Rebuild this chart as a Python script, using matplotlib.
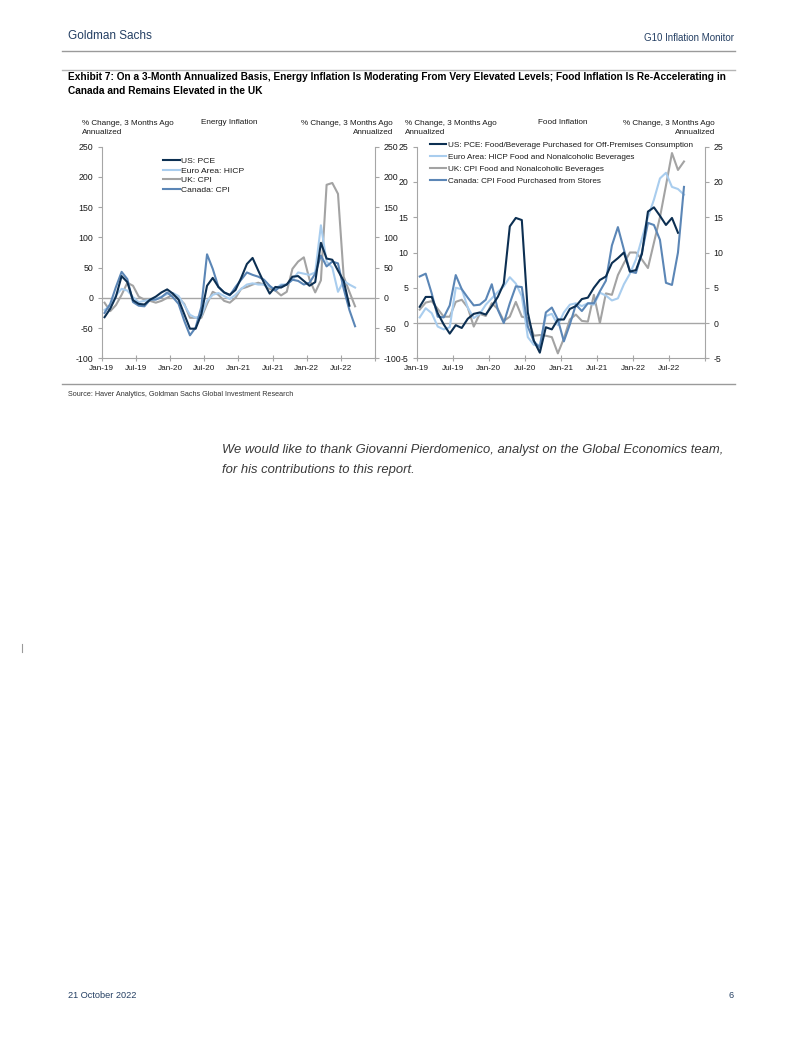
import matplotlib.pyplot as plt
import numpy as np

# monthly data, Jan-19 .. Sep-22 (US PCE ends Aug-22)
tick_labels = ['Jan-19', 'Jul-19', 'Jan-20', 'Jul-20', 'Jan-21', 'Jul-21', 'Jan-22', 'Jul-22', '']

energy_us = [-32, -18, 2, 36, 26, -4, -10, -11, -3, 2, 9, 14, 7, -3, -27, -51, -51, -27, 20, 33,
             18, 9, 5, 13, 33, 56, 66, 45, 25, 7, 18, 17, 22, 35, 36, 28, 20, 26, 91, 65,
             63, 45, 28, -13]
energy_ea = [-20, -13, 4, 15, 12, 1, -7, -5, -3, -2, 2, 6, 8, 3, -12, -28, -33, -30, -5, 5,
             8, 3, -2, 5, 15, 22, 24, 22, 22, 18, 15, 22, 22, 30, 42, 40, 38, 42, 120, 60,
             50, 10, 28, 22, 17]
energy_uk = [-8, -22, -12, 5, 25, 20, 2, -3, -5, -8, -5, 0, 5, 0, -10, -33, -33, -33, -10, 10,
             5, -5, -8, 0, 15, 18, 22, 25, 22, 15, 12, 4, 10, 48, 60, 67, 30, 9, 29, 187,
             190, 172, 35, 10, -14]
energy_ca = [-25, -10, 18, 43, 31, -7, -13, -14, -3, -3, 1, 9, 1, -10, -38, -62, -49, -15, 72, 48,
             18, 9, 4, 18, 30, 42, 38, 35, 30, 20, 12, 20, 22, 30, 28, 22, 25, 40, 70, 52,
             60, 57, 15, -20, -47]

food_us = [2.3, 3.7, 3.7, 1.4, -0.2, -1.5, -0.3, -0.7, 0.6, 1.3, 1.5, 1.2, 2.4, 3.7, 5.6, 13.7, 14.9, 14.6, 1.5, -2.5,
           -4.2, -0.6, -0.9, 0.5, 0.5, 2.0, 2.4, 3.4, 3.6, 5.0, 6.1, 6.6, 8.5, 9.2, 10.0, 7.3, 7.5, 9.8, 15.8, 16.4,
           15.2, 13.9, 14.9, 12.8]
food_ea = [0.8, 2.1, 1.4, -0.5, -0.9, -0.6, 5.0, 4.8, 2.2, 0.7, 1.3, 2.6, 3.5, 4.4, 5.2, 6.5, 5.6, 3.8, -2.0, -3.1,
           -3.1, 1.0, 1.3, -0.3, 1.5, 2.6, 2.8, 2.4, 2.8, 2.6, 4.3, 3.9, 3.2, 3.5, 5.5, 7.0, 9.0, 12.0, 15.0, 17.5,
           20.5, 21.3, 19.3, 19.0, 18.2]
food_uk = [1.9, 2.9, 3.1, 2.0, 0.9, 0.9, 3.0, 3.3, 2.2, -0.5, 1.3, 1.0, 2.8, 2.0, 0.3, 0.9, 3.0, 0.9, 0.7, -1.8,
           -1.7, -1.8, -2.0, -4.3, -2.2, 0.5, 1.2, 0.3, 0.2, 4.0, 0.0, 4.2, 4.0, 6.8, 8.5, 10.0, 10.0, 9.0, 7.8, 11.4,
           15.0, 19.5, 24.1, 21.7, 22.9]
food_ca = [6.6, 7.0, 4.2, 0.9, 0.8, 2.5, 6.8, 4.8, 3.6, 2.5, 2.6, 3.3, 5.5, 1.9, 0.0, 2.8, 5.2, 5.1, -0.5, -2.6,
           -3.5, 1.5, 2.2, 0.5, -2.6, -0.2, 2.6, 1.7, 2.8, 2.8, 4.5, 6.0, 11.0, 13.6, 10.4, 7.3, 7.1, 10.0, 14.2, 13.9,
           11.8, 5.7, 5.4, 10.0, 19.3]

c_us = '#0c2f52'
c_ea = '#a9cdee'
c_uk = '#a3a3a3'
c_ca = '#5b86b6'
grid_c = '#a6a6a6'
txt_c = '#1a1a1a'

plt.rcParams['font.family'] = ['Liberation Sans', 'DejaVu Sans']
plt.rcParams['axes.unicode_minus'] = False

fig = plt.figure(figsize=(8.02, 10.37), dpi=100)
W, H = 802.0, 1037.0


def px(x, y):
    return x / W, 1 - y / H


def make_panel(rect, ylim, yticks, series, labels, legend_anchor, legend_fs, legend_gap):
    ax = fig.add_axes(rect)
    n = [np.arange(len(s)) + 0.5 for s in series]
    cols = [c_us, c_ea, c_uk, c_ca]
    # draw light series first so the navy line stays on top
    order = [2, 1, 3, 0]
    handles = {}
    for k in order:
        line, = ax.plot(n[k], series[k], color=cols[k], linewidth=1.5, label=labels[k],
                        solid_joinstyle='round')
        handles[k] = line
    ax.axhline(0, color=grid_c, linewidth=1.0, zorder=0)
    ax.set_xlim(0, 48)
    ax.set_ylim(*ylim)
    ax.set_yticks(yticks)
    ax.set_xticks(np.arange(0, 49, 6))
    ax.set_xticklabels(tick_labels)
    for s in ['top', 'right']:
        ax.spines[s].set_visible(False)
    for s in ['left', 'bottom']:
        ax.spines[s].set_color(grid_c)
    ax.tick_params(axis='both', colors=grid_c, labelcolor=txt_c, labelsize=6.3, length=3,
                   width=0.8)
    ax.tick_params(axis='x', direction='inout', length=5, pad=2, labelsize=5.9)
    ax.tick_params(axis='y', direction='out', pad=3)
    ax2 = ax.twinx()
    ax2.set_ylim(*ylim)
    ax2.set_yticks(yticks)
    for s in ['top', 'left', 'bottom']:
        ax2.spines[s].set_visible(False)
    ax2.spines['right'].set_color(grid_c)
    ax2.tick_params(axis='y', colors=grid_c, labelcolor=txt_c, labelsize=6.3, length=3,
                    width=0.8, direction='out', pad=3)
    leg = ax.legend([handles[k] for k in range(4)], labels, loc='upper left',
                    bbox_to_anchor=legend_anchor, bbox_transform=fig.transFigure,
                    frameon=False, fontsize=legend_fs, handlelength=2.0, handletextpad=0.15,
                    labelspacing=legend_gap, borderpad=0, borderaxespad=0)
    for t in leg.get_texts():
        t.set_color(txt_c)
    return ax


############################ energy ############################
l0, b0 = px(101.7, 358.3)
make_panel([l0, b0, 273.3 / W, 211.6 / H], (-100, 250), np.arange(-100, 251, 50),
           [energy_us, energy_ea, energy_uk, energy_ca],
           ['US: PCE', 'Euro Area: HICP', 'UK: CPI', 'Canada: CPI'],
           px(163, 157), 6.1, 0.2)

############################ food ############################
l1, b1 = px(416.7, 358.3)
make_panel([l1, b1, 288.3 / W, 211.6 / H], (-5, 25), np.arange(-5, 26, 5),
           [food_us, food_ea, food_uk, food_ca],
           ['US: PCE: Food/Beverage Purchased for Off-Premises Consumption',
            'Euro Area: HICP Food and Nonalcoholic Beverages',
            'UK: CPI Food and Nonalcoholic Beverages',
            'Canada: CPI Food Purchased from Stores'],
           px(430, 141), 5.9, 0.52)

############################ chart headers ############################
hdr = '% Change, 3 Months Ago\nAnnualized'
fs_h = 5.9
fig.text(*px(82, 120), hdr, ha='left', va='top', fontsize=fs_h, color=txt_c, linespacing=1.4)
fig.text(*px(393, 120), hdr, ha='right', va='top', fontsize=fs_h, color=txt_c, linespacing=1.4,
         multialignment='right')
fig.text(*px(229, 119), 'Energy Inflation', ha='center', va='top', fontsize=fs_h, color=txt_c)
fig.text(*px(405, 120), hdr, ha='left', va='top', fontsize=fs_h, color=txt_c, linespacing=1.4)
fig.text(*px(715, 120), hdr, ha='right', va='top', fontsize=fs_h, color=txt_c, linespacing=1.4,
         multialignment='right')
fig.text(*px(563, 119), 'Food Inflation', ha='center', va='top', fontsize=fs_h, color=txt_c)

############################ page furniture ############################
navy = '#243f63'
fig.text(*px(68, 36), 'Goldman Sachs', ha='left', va='center', fontsize=8.5, color=navy)
fig.text(*px(734, 38), 'G10 Inflation Monitor', ha='right', va='center', fontsize=7.0,
         color=navy)
for yy, c in [(51, '#9a9a9a'), (70, '#b5b5b5'), (384, '#9a9a9a')]:
    fig.add_artist(plt.Line2D([62 / W, 735 / W], [1 - yy / H, 1 - yy / H], color=c,
                              linewidth=1.0))
fig.text(*px(68, 84), 'Exhibit 7: On a 3-Month Annualized Basis, Energy Inflation Is Moderating '
         'From Very Elevated Levels; Food Inflation Is Re-Accelerating in\n'
         'Canada and Remains Elevated in the UK', ha='left', va='center', fontsize=7.3,
         fontweight='bold', color='black', linespacing=1.45)
fig.text(*px(68, 395), 'Source: Haver Analytics, Goldman Sachs Global Investment Research',
         ha='left', va='center', fontsize=5.2, color='#333333')
fig.text(*px(222, 450), 'We would like to thank Giovanni Pierdomenico, analyst on the Global '
         'Economics team,', ha='left', va='center', fontsize=9.4, style='italic',
         color='#3a3a3a')
fig.text(*px(222, 470), 'for his contributions to this report.', ha='left', va='center',
         fontsize=9.4, style='italic', color='#3a3a3a')
fig.add_artist(plt.Line2D([22 / W, 22 / W], [1 - 644 / H, 1 - 652 / H], color='#9a9a9a',
                          linewidth=0.8))
fig.text(*px(68, 996), '21 October 2022', ha='left', va='center', fontsize=6.6, color=navy)
fig.text(*px(734, 996), '6', ha='right', va='center', fontsize=6.6, color=navy)

fig.savefig('out.png', dpi=100)
